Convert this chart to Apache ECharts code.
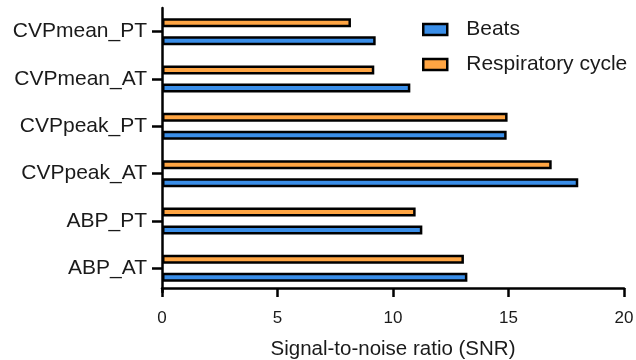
<!DOCTYPE html>
<html>
<head>
<meta charset="utf-8">
<script src="https://cdn.jsdelivr.net/npm/echarts@6/dist/echarts.min.js"></script>
<style>html,body{margin:0;padding:0;background:#fff}#c{width:636px;height:360px}</style>
</head>
<body>
<div id="c"></div>
<script>
var categories = ['CVPmean_PT', 'CVPmean_AT', 'CVPpeak_PT', 'CVPpeak_AT', 'ABP_PT', 'ABP_AT'];
var beats = [9.25, 10.75, 14.92, 18.02, 11.27, 13.22];
var respiratory = [8.18, 9.19, 14.96, 16.87, 10.98, 13.07];
var xTicks = [0, 5, 10, 15, 20];

var FONT = 'Liberation Sans, Arial, sans-serif';
var chart = echarts.init(document.getElementById('c'));
chart.setOption({
  animation: false,
  grid: { left: 162, right: 12, top: 8, bottom: 68, outerBoundsMode: 'none', containLabel: false },
  legend: {
    orient: 'vertical', left: 417, top: 14,
    data: ['Beats', 'Respiratory cycle'],
    icon: 'rect',
    itemWidth: 24, itemHeight: 11, itemGap: 14,
    itemStyle: { borderWidth: 2.5, borderColor: '#000' },
    textStyle: { fontSize: 21, fontFamily: FONT, color: '#1a1a1a', padding: [0, 0, 0, 14] }
  },
  xAxis: {
    type: 'value', min: 0, max: 20, interval: 5, offset: -4,
    name: 'Signal-to-noise ratio (SNR)', nameLocation: 'middle', nameGap: 51,
    nameTextStyle: { fontSize: 20.5, fontFamily: FONT, color: '#1a1a1a' },
    axisLine: { show: true, lineStyle: { color: '#000', width: 2.5 } },
    axisTick: { show: true, length: 9, lineStyle: { color: '#000', width: 2.5 } },
    axisLabel: { fontSize: 17, fontFamily: FONT, color: '#1a1a1a', margin: 22,
      formatter: function (v) { return xTicks.indexOf(v) >= 0 ? String(v) : ''; } },
    splitLine: { show: false }
  },
  yAxis: {
    type: 'category', data: categories, inverse: true,
    axisLine: { show: true, lineStyle: { color: '#000', width: 2.5 } },
    axisTick: { show: true, alignWithLabel: true, length: 10, lineStyle: { color: '#000', width: 2.5 } },
    axisLabel: { fontSize: 21, fontFamily: FONT, color: '#1a1a1a', margin: 15 }
  },
  series: [
    { name: 'Respiratory cycle', type: 'bar', data: respiratory, barWidth: 9, barGap: '100%',
      itemStyle: { color: '#ffa543', borderColor: '#000', borderWidth: 2.5 } },
    { name: 'Beats', type: 'bar', data: beats, barWidth: 9, barGap: '100%',
      itemStyle: { color: '#3a8ee8', borderColor: '#000', borderWidth: 2.5 } }
  ]
});
</script>
</body>
</html>
